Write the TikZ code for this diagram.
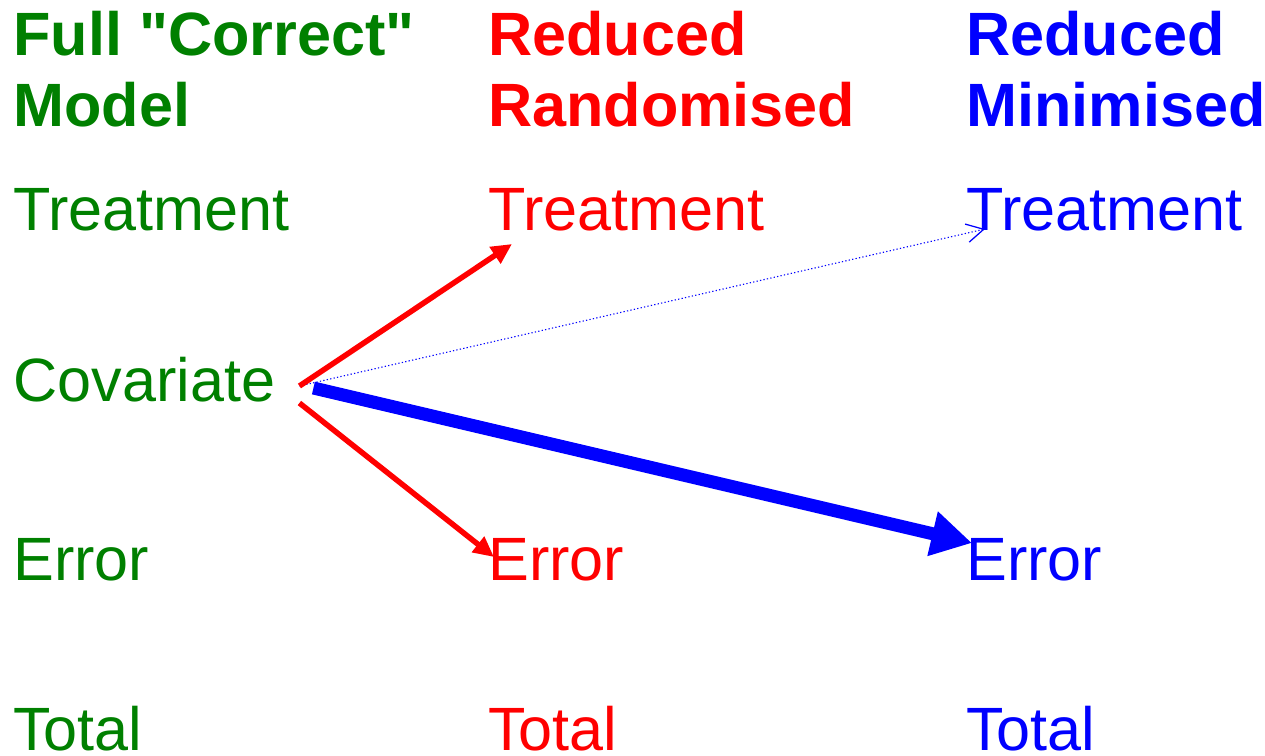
\documentclass[tikz,border=0pt]{standalone}
\usepackage{fontspec}
\setmainfont{Liberation Sans}
\usepackage{xcolor}
\usepackage{tikz}
\usetikzlibrary{
    arrows.meta,
    calc
}
\definecolor{fullgreen}{RGB}{0,128,0}
\definecolor{randred}{RGB}{255,0,0}
\definecolor{minblue}{RGB}{0,0,255}
\tikzset{
    heading/.style={
        font=\fontsize{34.8pt}{40.4pt}\selectfont\bfseries,
        align=left,
        anchor=base west,
        inner sep=0pt
    }
}
\tikzset{
    term/.style={
        font=\fontsize{34.8pt}{40.4pt}\selectfont,
        anchor=base west,
        inner sep=0pt
    }
}
\tikzset{
    randarrow/.style={
        draw=randred,
        line width=1.1mm,
        -{Triangle[length=4.1mm,width=3.8mm]}
    }
}
\tikzset{
    minarrow/.style={
        draw=minblue,
        line width=2.6mm,
        -{Triangle[length=8.1mm,width=8.6mm]}
    }
}
\tikzset{
    weakarrow/.style={
        draw=minblue,
        line width=0.22mm,
        dash pattern=on 0.25mm off 0.45mm,
        -{Straight Barb[length=3.4mm,width=3.7mm,line width=0.25mm]}
    }
}

\begin{document}
\begin{tikzpicture}

\useasboundingbox (0,0) rectangle (253mm,-151.2mm);

\def\xfull{2.6mm}
\def\xrand{97.6mm}
\def\xmin{193.2mm}

% ------------------------------------------------------------
% Column headings (anchored on their second line)
% ------------------------------------------------------------

\node[heading, text=fullgreen] (hfull) at (\xfull,-25.2mm)
    {Full \textquotedbl Correct\textquotedbl\\Model};
\node[heading, text=randred] (hrand) at (\xrand,-25.2mm) {Reduced\\Randomised};
\node[heading, text=minblue] (hmin) at (\xmin,-25.2mm) {Reduced\\Minimised};

% ------------------------------------------------------------
% Terms
% ------------------------------------------------------------

\node[term, text=fullgreen] (gTreat) at (\xfull,-46mm) {Treatment};
\node[term, text=fullgreen] (gCov) at (\xfull,-80.2mm) {Covariate};
\node[term, text=fullgreen] (gErr) at (\xfull,-116mm) {Error};
\node[term, text=fullgreen] (gTot) at (\xfull,-150mm) {Total};

\node[term, text=randred] (rTreat) at (\xrand,-46mm) {Treatment};
\node[term, text=randred] (rErr) at (\xrand,-116mm) {Error};
\node[term, text=randred] (rTot) at (\xrand,-150mm) {Total};

\node[term, text=minblue] (bTreat) at (\xmin,-46mm) {Treatment};
\node[term, text=minblue] (bErr) at (\xmin,-116mm) {Error};
\node[term, text=minblue] (bTot) at (\xmin,-150mm) {Total};

% ------------------------------------------------------------
% Where the covariate goes
% ------------------------------------------------------------

\coordinate (covUp) at ($(gCov.base east)+(4.8mm,3mm)$);
\coordinate (covDown) at ($(gCov.base east)+(4.8mm,-0.4mm)$);
\coordinate (covThick) at ($(gCov.base east)+(7.6mm,2.6mm)$);

\draw[weakarrow] (covUp) -- ($(bTreat.base west)+(3.8mm,0.2mm)$);
\draw[randarrow] (covUp) -- ($(rTreat.base west)+(4.8mm,-2.8mm)$);
\draw[randarrow] (covDown) -- ($(rErr.base west)+(1.2mm,4.6mm)$);
\draw[minarrow] (covThick) -- ($(bErr.base west)+(1.2mm,7.4mm)$);

\end{tikzpicture}
\end{document}
